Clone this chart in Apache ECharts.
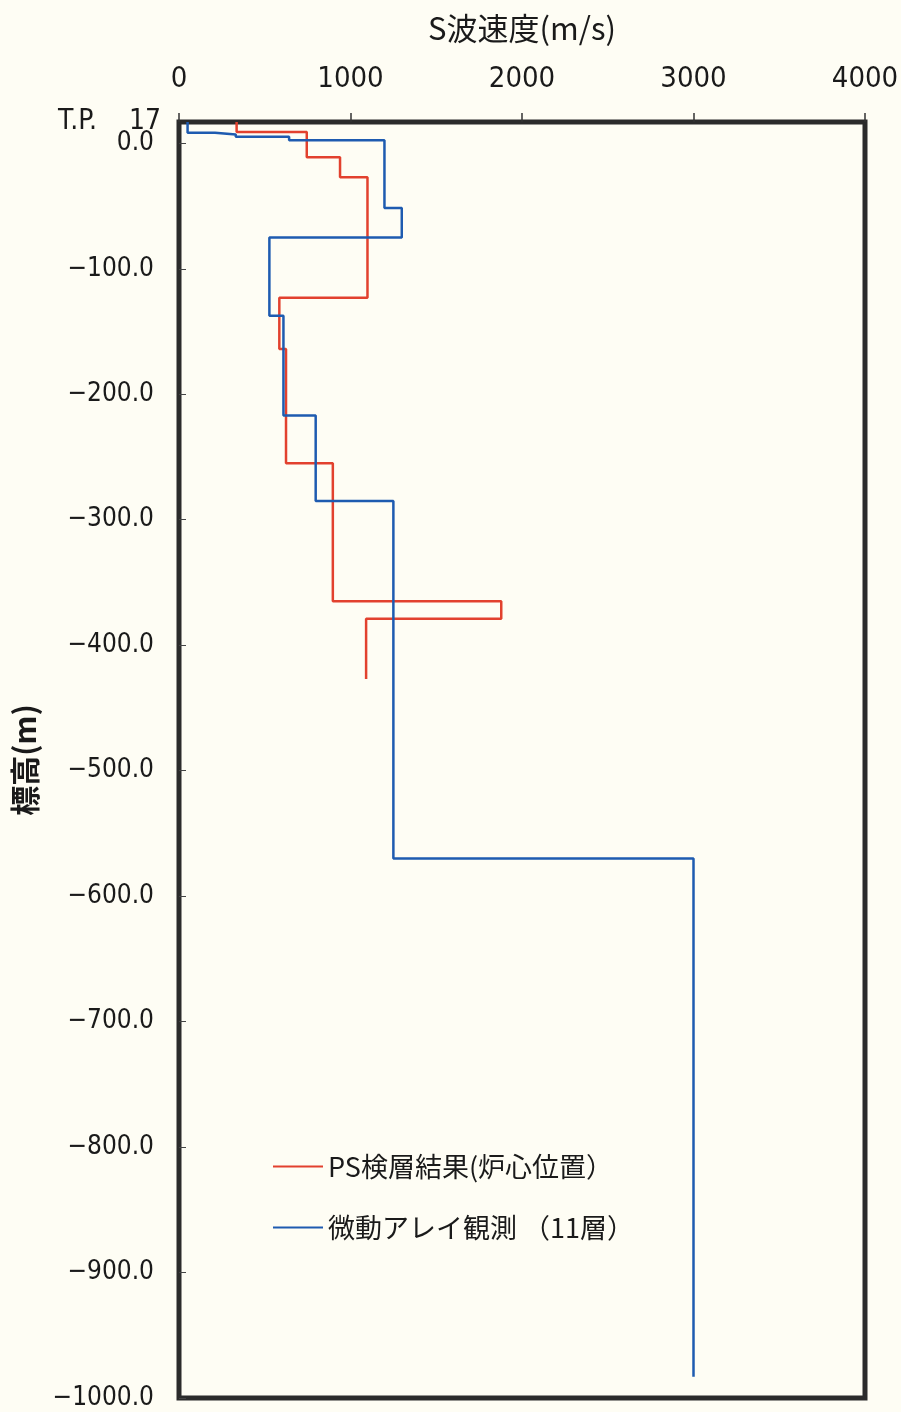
<!DOCTYPE html>
<html>
<head>
<meta charset="utf-8">
<script src="https://cdn.jsdelivr.net/npm/echarts@6/dist/echarts.min.js"></script>
<style>
html,body{margin:0;padding:0;background:#fefdf4;}
#c{width:901px;height:1412px;}
</style>
</head>
<body>
<div id="c"></div>
<script>
// PS logging (reactor core position): layer tops (m), velocities (m/s), bottom of last layer
const psTops = [17, 9, -11, -27, -123, -164, -255, -365, -379];
const psVs   = [336, 745, 939, 1099, 585, 624, 897, 1879, 1091];
const psBottom = -427;
// Microtremor array observation (11 layers)
const arrTops = [17, 8.5, 7, 5.3, 2.4, -51.5, -75, -137.5, -217, -285, -570];
const arrVs   = [50, 210, 331, 642, 1198, 1299, 527, 609, 797, 1250, 3000];
const arrBottom = -983;
const seriesNames = ['PS検層結果(炉心位置）', '微動アレイ観測 （11層）'];
const xTicks = [0, 1000, 2000, 3000, 4000];
const yMin = -1000, yMax = 17, yStep = 100;
const yTopLabel = 'T.P.    17';

function steps(tops, vs, bottom) {
  const pts = [];
  for (let i = 0; i < tops.length; i++) {
    const b = i + 1 < tops.length ? tops[i + 1] : bottom;
    pts.push([vs[i], tops[i]]);
    pts.push([vs[i], b]);
  }
  return pts;
}

const chart = echarts.init(document.getElementById('c'), null, {renderer: 'canvas'});
const numFont = "'DejaVu Sans Condensed', 'Liberation Sans', sans-serif";
const jpFont = "Noto Sans CJK JP";
chart.setOption({
  backgroundColor: '#fefdf4',
  animation: false,
  grid: {left: 179, right: 36, top: 122, bottom: 14, show: true, borderColor: '#2b2b2b', borderWidth: 5,
         backgroundColor: 'transparent', containLabel: false, outerBoundsMode: 'none'},
  legend: {
    orient: 'vertical', left: 268, top: 1148, itemGap: 34, itemWidth: 50, itemHeight: 2,
    textStyle: {fontSize: 27, color: '#1a1a1a', fontFamily: jpFont},
    data: [{name: seriesNames[0], icon: 'rect'}, {name: seriesNames[1], icon: 'rect'}]
  },
  xAxis: {
    type: 'value', position: 'top', min: xTicks[0], max: xTicks[xTicks.length - 1], interval: 1000,
    name: 'S波速度(m/s)', nameLocation: 'middle', nameGap: 78,
    nameTextStyle: {fontSize: 31, color: '#1a1a1a', fontFamily: jpFont},
    axisLine: {show: false, onZero: false},
    axisTick: {show: true, inside: false, length: 9, lineStyle: {color: '#333', width: 1.5}},
    axisLabel: {fontSize: 29, color: '#1a1a1a', margin: 28, fontFamily: numFont,
      formatter: function (v) { return String(v); }},
    splitLine: {show: false}
  },
  yAxis: [{
    type: 'value', min: yMin, max: yMax, interval: yStep,
    name: '標高(m)', nameLocation: 'middle', nameGap: 139, nameRotate: 90,
    nameTextStyle: {fontSize: 30, color: '#1a1a1a', fontFamily: jpFont, fontWeight: 'bold'},
    axisLine: {show: false, onZero: false},
    axisTick: {show: true, inside: true, length: 7, lineStyle: {color: '#444', width: 1}},
    axisLabel: {
      fontSize: 26, color: '#1a1a1a', margin: 25, fontFamily: numFont,
      showMaxLabel: false, showMinLabel: true,
      formatter: function (v) {
        if (v === 0) return '0.0';
        return v < 0 ? '\u2212' + Math.abs(v).toFixed(1) : v.toFixed(1);
      }
    },
    splitLine: {show: false}
  }, {
    type: 'value', position: 'left', min: yMin, max: yMax, interval: yStep,
    axisLine: {show: false, onZero: false}, axisTick: {show: false}, splitLine: {show: false},
    axisLabel: {
      fontSize: 28, color: '#1a1a1a', margin: 18, fontFamily: numFont, showMaxLabel: true,
      formatter: function (v) { return Math.abs(v - yMax) < 1e-6 ? yTopLabel : ''; }
    }
  }],
  series: [
    {name: seriesNames[0], type: 'line', data: steps(psTops, psVs, psBottom), symbol: 'none',
     lineStyle: {color: '#e2412e', width: 2.5}, itemStyle: {color: '#e2412e'}},
    {name: seriesNames[1], type: 'line', data: steps(arrTops, arrVs, arrBottom), symbol: 'none',
     lineStyle: {color: '#1e5bb0', width: 2.5}, itemStyle: {color: '#1e5bb0'}}
  ]
});
</script>
</body>
</html>
